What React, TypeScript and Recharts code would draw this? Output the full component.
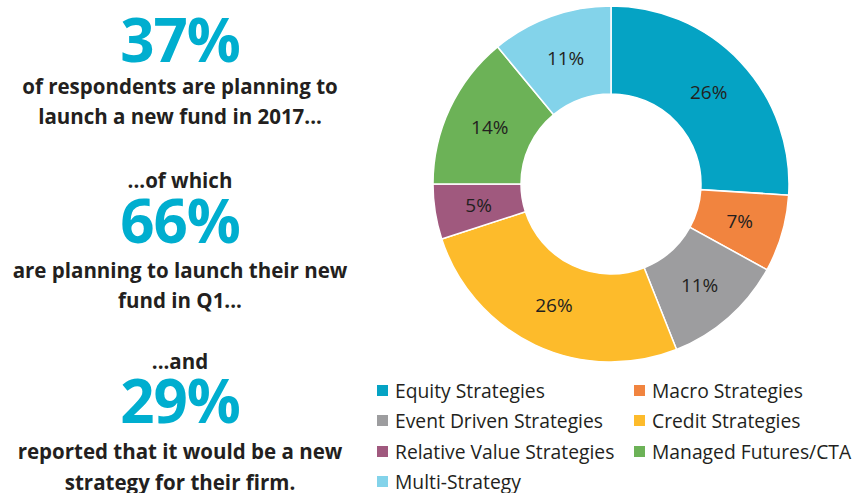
import { PieChart, Pie, Cell, Legend } from 'recharts';

const categories = [
  'Equity Strategies',
  'Macro Strategies',
  'Event Driven Strategies',
  'Credit Strategies',
  'Relative Value Strategies',
  'Managed Futures/CTA',
  'Multi-Strategy',
];
const shares = [26, 7, 11, 26, 5, 14, 11];
const colors = ['#05a3c4', '#f1843f', '#9d9d9f', '#fdbb2b', '#a0597e', '#6cb257', '#83d3ea'];

// left hand callouts
const highlights = ['37%', '66%', '29%'];
const highlightTop = [17, 198, 378];
const captionLines = [
  { text: 'of respondents are planning to', y: 86 },
  { text: 'launch a new fund in 2017...', y: 116 },
  { text: '...of which', y: 180 },
  { text: 'are planning to launch their new', y: 270 },
  { text: 'fund in Q1...', y: 300 },
  { text: '...and', y: 361 },
  { text: 'reported that it would be a new', y: 451 },
  { text: 'strategy for their firm.', y: 482 },
];

const data = categories.map((name, i) => ({ name, value: shares[i] }));

const FONT = '"Open Sans", sans-serif';
const RAD = Math.PI / 180;

const renderLabel = (p: any) => {
  const r = (p.innerRadius + p.outerRadius) / 2;
  const x = p.cx + r * Math.cos(-p.midAngle * RAD);
  const y = p.cy + r * Math.sin(-p.midAngle * RAD);
  return (
    <text x={x} y={y} textAnchor="middle" dominantBaseline="central" fill="#231f20" fontSize={19} fontFamily={FONT}>
      {p.value}%
    </text>
  );
};

const renderLegend = () => (
  <div style={{ display: 'grid', gridTemplateColumns: '257px 220px', rowGap: 8.5, fontFamily: FONT, fontSize: 19.3, color: '#231f20' }}>
    {categories.map((c, i) => (
      <div key={c} style={{ display: 'flex', alignItems: 'center', height: 22, whiteSpace: 'nowrap' }}>
        <span style={{ width: 11, height: 11, background: colors[i], marginRight: 7, display: 'inline-block', flexShrink: 0 }} />
        {c}
      </div>
    ))}
  </div>
);

export default function App() {
  return (
    <div style={{ position: 'absolute', left: 0, top: 0, width: 866, height: 493, background: '#fff' }}>
      <PieChart width={866} height={493} margin={{ top: 0, right: 0, bottom: 0, left: 0 }}>
        <Pie
          data={data}
          dataKey="value"
          cx={611}
          cy={184}
          innerRadius={90}
          outerRadius={178}
          startAngle={90}
          endAngle={-270}
          stroke="#fff"
          strokeWidth={1.5}
          label={renderLabel}
          labelLine={false}
          isAnimationActive={false}
        >
          {data.map((d, i) => (
            <Cell key={d.name} fill={colors[i]} />
          ))}
        </Pie>
        <Legend content={renderLegend} wrapperStyle={{ position: 'absolute', left: 377, top: 379, width: 480 }} />
      </PieChart>
      {highlights.map((h, i) => (
        <div
          key={h}
          style={{ position: 'absolute', left: 0, width: 360, top: highlightTop[i], height: 44, textAlign: 'center', fontFamily: FONT, fontWeight: 700, fontSize: 60, lineHeight: '44px', color: '#00aecf', letterSpacing: -1 }}
        >
          {h}
        </div>
      ))}
      {captionLines.map((l) => (
        <div
          key={l.text}
          style={{ position: 'absolute', left: 0, width: 360, top: l.y - 10, height: 20, lineHeight: '20px', textAlign: 'center', fontFamily: FONT, fontWeight: 700, fontSize: 20.5, color: '#231f20', whiteSpace: 'nowrap' }}
        >
          {l.text}
        </div>
      ))}
    </div>
  );
}
